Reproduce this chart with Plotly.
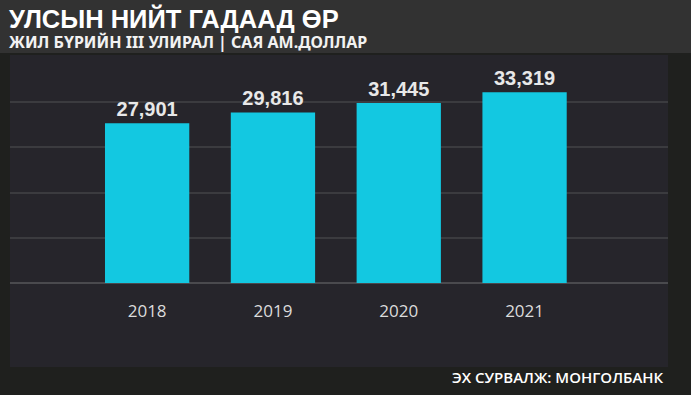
import plotly.graph_objects as go

years = ["2018", "2019", "2020", "2021"]
debt = [27901, 29816, 31445, 33319]
value_labels = ["27,901", "29,816", "31,445", "33,319"]

title = "УЛСЫН НИЙТ ГАДААД ӨР"
subtitle = "ЖИЛ БҮРИЙН III УЛИРАЛ | САЯ АМ.ДОЛЛАР"
source = "ЭХ СУРВАЛЖ: МОНГОЛБАНК"

fig = go.Figure()
fig.add_trace(go.Bar(
    x=years, y=debt, text=value_labels, textposition="outside",
    textfont=dict(family="Liberation Sans", size=20, color="#e8e8e8", weight="bold"),
    marker=dict(color="#13c8e1", line=dict(width=0)),
    width=0.67, cliponaxis=False, hoverinfo="skip",
))

W, H = 691, 395
fig.update_layout(
    width=W, height=H,
    margin=dict(l=10, r=23, t=57, b=112),
    paper_bgcolor="#1f201e",
    plot_bgcolor="rgba(0,0,0,0)",
    showlegend=False,
    font=dict(family="Open Sans", color="#e0e0e0"),
    xaxis=dict(type="category", range=[-1.09, 4.14], showgrid=False,
               showline=False, ticks="", zeroline=False,
               tickfont=dict(family="Open Sans", size=17, color="#dcdcdc"),
               ticklabelstandoff=16),
    yaxis=dict(range=[0, 39500], dtick=7900, showticklabels=False,
               gridcolor="#3b3b3f", gridwidth=2, zeroline=True,
               zerolinecolor="#4a4a4e", zerolinewidth=2, showline=False),
    shapes=[
        dict(type="rect", xref="paper", yref="paper", layer="below",
             x0=-10/658, x1=(691-10)/658, y0=(283-53)/226, y1=(283+5)/226,
             fillcolor="#323232", line=dict(width=0)),
        dict(type="rect", xref="paper", yref="paper", layer="below",
             x0=0, x1=1, y0=(283-367)/226, y1=(283-55)/226,
             fillcolor="#26252b", line=dict(width=0)),
    ],
    annotations=[
        dict(text=f"<b>{title}</b>", xref="paper", yref="paper",
             x=-3/658, y=(283-18)/226, xanchor="left", yanchor="middle",
             showarrow=False,
             font=dict(family="Liberation Sans", size=25.5, color="#ffffff")),
        dict(text=subtitle, xref="paper", yref="paper",
             x=-3/658, y=(283-42)/226, xanchor="left", yanchor="middle",
             showarrow=False,
             font=dict(family="Noto Sans", size=16, color="#f2f2f2", weight="bold")),
        dict(text=source, xref="paper", yref="paper",
             x=(666-10)/658, y=(283-377)/226, xanchor="right", yanchor="middle",
             showarrow=False,
             font=dict(family="Open Sans", size=15, color="#ffffff", weight=600)),
    ],
)
fig.write_html("out.html", config={"displayModeBar": False},
               post_script="document.body.style.margin='0';")
